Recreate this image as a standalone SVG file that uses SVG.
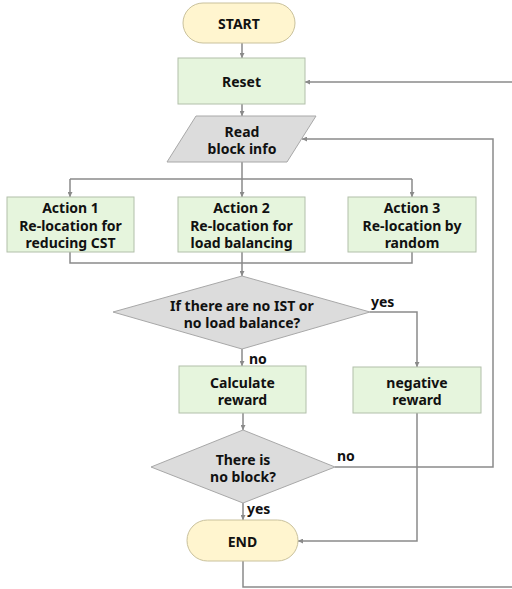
<svg xmlns="http://www.w3.org/2000/svg" width="512" height="589" viewBox="0 0 512 589">
<style>
.term{fill:#fff5cf;stroke:#c9c19c;stroke-width:1}
.proc{fill:#e6f5dd;stroke:#b2bfaa;stroke-width:1}
.dec{fill:#dcdcdc;stroke:#a8a8a8;stroke-width:1}
.t{font-family:"Noto Sans","Open Sans",sans-serif;font-weight:bold;font-size:14px;fill:#111;text-anchor:middle;dominant-baseline:central}
.lbl{font-family:"Noto Sans","Open Sans",sans-serif;font-weight:bold;font-size:14px;fill:#111}
.c{fill:none;stroke:#8a8a8a;stroke-width:1.5}
.a{marker-end:url(#ah)}
</style>
<defs>
<marker id="ah" viewBox="0 0 8 8" refX="8" refY="4" markerWidth="5" markerHeight="5" markerUnits="userSpaceOnUse" orient="auto">
<path d="M0,0 L8,4 L0,8 z" fill="#8a8a8a"/>
</marker>
</defs>
<rect width="512" height="589" fill="#ffffff"/>
<g id="connectors">
<path class="c a" d="M242,43 V58"/>
<path class="c a" d="M242,104 V116"/>
<path class="c a" d="M512,82 H305"/>
<path class="c" d="M242,162 V179 M70,179 H412"/>
<path class="c a" d="M70,179 V197"/>
<path class="c a" d="M242,179 V197"/>
<path class="c a" d="M412,179 V197"/>
<path class="c" d="M70,252 V263 H412 V252 M242,252 V263"/>
<path class="c a" d="M242,263 V276"/>
<path class="c a" d="M242,349 V366"/>
<path class="c a" d="M370,312 H417 V367"/>
<path class="c a" d="M243,413 V430"/>
<path class="c a" d="M335,467 H493 V139 H302"/>
<path class="c a" d="M243,503 V520"/>
<path class="c a" d="M417,413 V541 H298"/>
<path class="c" d="M243,561 V587 H512"/>
</g>
<g id="start"><rect class="term" x="183" y="3" width="112" height="40" rx="20"/><text class="t" x="239" y="23">START</text></g>
<g id="reset"><rect class="proc" x="178" y="58" width="127" height="46"/><text class="t" x="241.5" y="81">Reset</text></g>
<g id="read"><polygon class="dec" points="196,116 316,116 287,162 167,162"/><text class="t" x="242" y="131">Read</text><text class="t" x="242" y="148">block info</text></g>
<g id="action1"><rect class="proc" x="7" y="197" width="127" height="55"/><text class="t" x="70.5" y="207.5">Action 1</text><text class="t" x="70.5" y="225">Re-location for</text><text class="t" x="70.5" y="242.5">reducing CST</text></g>
<g id="action2"><rect class="proc" x="178" y="197" width="127" height="55"/><text class="t" x="241.5" y="207.5">Action 2</text><text class="t" x="241.5" y="225">Re-location for</text><text class="t" x="241.5" y="242.5">load balancing</text></g>
<g id="action3"><rect class="proc" x="348" y="197" width="128" height="55"/><text class="t" x="412" y="207.5">Action 3</text><text class="t" x="412" y="225">Re-location by</text><text class="t" x="412" y="242.5">random</text></g>
<g id="decision1"><polygon class="dec" points="242,276 370,312 242,349 113,312"/><text class="t" x="242" y="305">If there are no IST or</text><text class="t" x="242" y="322">no load balance?</text></g>
<g id="calc"><rect class="proc" x="179" y="366" width="127" height="47"/><text class="t" x="242.5" y="382.5">Calculate</text><text class="t" x="242.5" y="399">reward</text></g>
<g id="neg"><rect class="proc" x="353" y="367" width="128" height="46"/><text class="t" x="417" y="382.5">negative</text><text class="t" x="417" y="399">reward</text></g>
<g id="decision2"><polygon class="dec" points="243,430 335,467 243,503 151,467"/><text class="t" x="243" y="459">There is</text><text class="t" x="243" y="476">no block?</text></g>
<g id="end"><rect class="term" x="187" y="520" width="111" height="41" rx="20.5"/><text class="t" x="242.5" y="541">END</text></g>
<g id="labels">
<text class="lbl" x="371" y="307">yes</text>
<text class="lbl" x="249" y="364">no</text>
<text class="lbl" x="337" y="461">no</text>
<text class="lbl" x="247" y="514">yes</text>
</g>
</svg>
